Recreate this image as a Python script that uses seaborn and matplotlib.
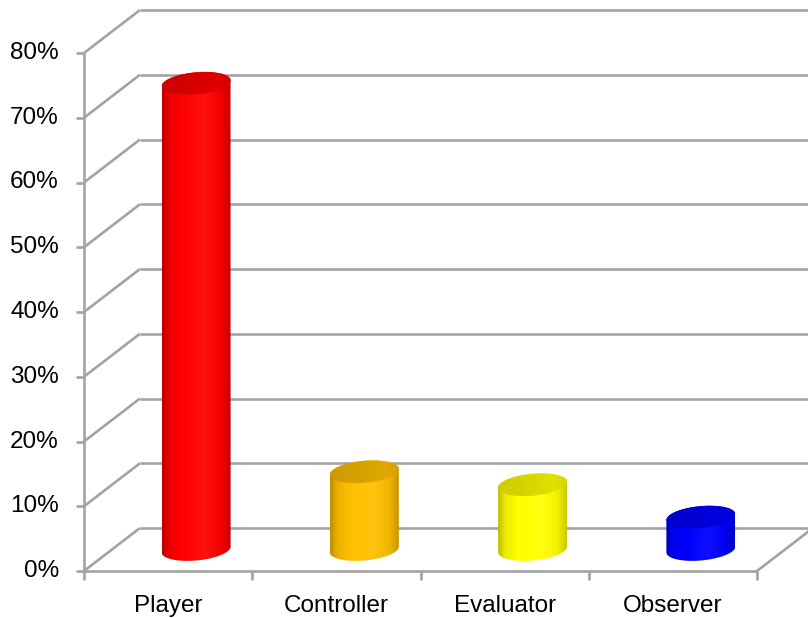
import numpy as np
import matplotlib
matplotlib.use("Agg")
import matplotlib.pyplot as plt
import matplotlib.transforms as mtransforms
from matplotlib.patches import PathPatch
from matplotlib.path import Path
from matplotlib.colors import LinearSegmentedColormap, to_rgb
import seaborn as sns

# Data
categories = ["Player", "Controller", "Evaluator", "Observer"]
values = [0.72, 0.12, 0.10, 0.05]
bar_colors = ["#FF0000", "#FFC000", "#FFFF00", "#0000FF"]
y_ticks = [0.0, 0.1, 0.2, 0.3, 0.4, 0.5, 0.6, 0.7, 0.8]
y_tick_labels = ["0%", "10%", "20%", "30%", "40%", "50%", "60%", "70%", "80%"]

sns.set_theme(style="white")
plt.rcParams["font.family"] = ["Liberation Sans", "DejaVu Sans"]

W, H = 808, 618
fig = plt.figure(figsize=(W / 100, H / 100), dpi=100)
# axes = mid-depth plane of the 3D box
ax = fig.add_axes([112 / W, (H - 549.5) / H, 673 / W, 518 / H])

# depth offsets (half the box depth) for front and back planes
front = ax.transData + mtransforms.ScaledTranslation(-0.28, -0.215, fig.dpi_scale_trans)
back = ax.transData + mtransforms.ScaledTranslation(0.28, 0.215, fig.dpi_scale_trans)

grid_kw = dict(color="#A3A3A3", lw=1.9, solid_capstyle="butt", clip_on=False, zorder=1)

# cylinder bodies (geometry from seaborn's bars)
sns.barplot(x=categories, y=values, hue=categories, palette=bar_colors,
            saturation=1, width=0.41, legend=False, ax=ax, zorder=3)
ax.set_xlim(-0.5, 3.5)
ax.set_ylim(0, 0.8)
ax.set_axis_off()

xl, xr = -0.5, 3.5
# back wall gridlines + left side-wall diagonals
for v in y_ticks:
    ax.plot([xl, xr + 0.05], [v, v], transform=back, **grid_kw)
    p0 = front.transform((xl, v))
    p1 = back.transform((xl, v))
    ax.add_line(plt.Line2D([p0[0], p1[0]], [p0[1], p1[1]], transform=None, **grid_kw))
    ax.add_line(plt.Line2D([p0[0] - 8, p0[0]], [p0[1], p0[1]], transform=None, **grid_kw))

# front value axis
ax.plot([xl, xl], [0, 0.8], transform=front, **grid_kw)
# floor front edge and right diagonal
ax.plot([xl, xr], [0, 0], transform=front, **grid_kw)
q0 = front.transform((xr, 0))
q1 = back.transform((xr, 0))
ax.add_line(plt.Line2D([q0[0], q1[0]], [q0[1], q1[1]], transform=None, **grid_kw))
# category tick marks
for xt in np.arange(xl, xr + 0.01, 1.0):
    p = front.transform((xt, 0))
    ax.add_line(plt.Line2D([p[0], p[0]], [p[1], p[1] - 9], transform=None, **grid_kw))

# value labels
for v, lab in zip(y_ticks, y_tick_labels):
    p = front.transform((xl, v))
    fig.text((p[0] - 25) / W, p[1] / H, lab, ha="right", va="center",
             fontsize=17.5, color="#000000")
# category labels
for i, lab in enumerate(categories):
    p = front.transform((i, 0))
    fig.text(p[0] / W, (p[1] - 35) / H, lab, ha="center", va="center",
             fontsize=17.5, color="#000000")


def shade(c, f):
    r = np.array(to_rgb(c))
    return tuple(np.clip(r * f, 0, 1))


def lighten(c, f):
    r = np.array(to_rgb(c))
    return tuple(np.clip(r + (1 - r) * f, 0, 1))


cap_b = 0.0170      # semi-minor axis of the ellipses (data units)
tilt = 0.0045       # rise of the ellipse across half the bar width
t = np.linspace(0, 2 * np.pi, 181)
grad = np.linspace(0, 1, 256).reshape(1, -1)

for patch, col in zip(list(ax.patches)[:len(values)], bar_colors):
    x0 = patch.get_x()
    w = patch.get_width()
    h = patch.get_height()
    xc, a = x0 + w / 2, w / 2
    patch.set_facecolor("none")
    patch.set_edgecolor("none")

    def ell(yc, tt):
        ex = xc + a * np.cos(tt)
        ey = yc + cap_b * np.sin(tt) + tilt * (ex - xc) / a
        return np.column_stack([ex, ey])

    # silhouette: lower half of bottom ellipse, up the right side, back across the top
    lower = ell(0.0, np.linspace(np.pi, 2 * np.pi, 91))
    upper = ell(h, np.linspace(0, np.pi, 91))
    sil = np.vstack([lower, upper, lower[:1]])
    body = PathPatch(Path(sil), facecolor="none", edgecolor="none",
                     transform=ax.transData, zorder=3)
    ax.add_patch(body)
    body_cmap = LinearSegmentedColormap.from_list(
        "body", [(0, shade(col, 0.74)), (0.1, shade(col, 0.92)),
                 (0.3, shade(col, 1.0)), (0.62, lighten(col, 0.06)),
                 (0.86, shade(col, 0.95)), (1, shade(col, 0.78))])
    im = ax.imshow(grad, extent=(x0, x0 + w, -0.05, h + 0.05), aspect="auto",
                   cmap=body_cmap, zorder=3, interpolation="bicubic")
    im.set_clip_path(body)
    im.set_clip_box(fig.bbox)

    # top cap
    cap = PathPatch(Path(ell(h, t)), facecolor="none", edgecolor="none",
                    transform=ax.transData, zorder=4)
    ax.add_patch(cap)
    cap_cmap = LinearSegmentedColormap.from_list(
        "cap", [(0, shade(col, 0.8)), (0.45, shade(col, 0.84)),
                (0.8, shade(col, 0.88)), (1, shade(col, 0.84))])
    im2 = ax.imshow(grad, extent=(x0, x0 + w, h - 0.03, h + 0.03),
                    aspect="auto", cmap=cap_cmap, zorder=4, interpolation="bicubic")
    im2.set_clip_path(cap)
    im2.set_clip_box(fig.bbox)

ax.set_xlim(-0.5, 3.5)
ax.set_ylim(0, 0.8)
fig.savefig("out.png", dpi=100, facecolor="white")
